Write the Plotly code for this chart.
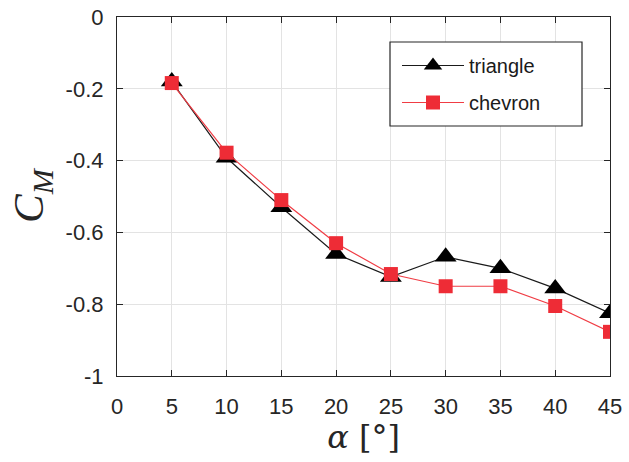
import plotly.graph_objects as go

alpha = [5, 10, 15, 20, 25, 30, 35, 40, 45]
triangle = [-0.18, -0.392, -0.53, -0.66, -0.724, -0.668, -0.70, -0.756, -0.825]
chevron = [-0.184, -0.378, -0.51, -0.63, -0.716, -0.75, -0.75, -0.805, -0.877]

x_ticks = [0, 5, 10, 15, 20, 25, 30, 35, 40, 45]
y_ticks = [0, -0.2, -0.4, -0.6, -0.8, -1]
y_tick_text = ["0", "-0.2", "-0.4", "-0.6", "-0.8", "-1"]

fig = go.Figure()
fig.add_trace(go.Scatter(
    x=alpha, y=triangle, name="triangle", mode="lines+markers",
    line=dict(color="#1a1a1a", width=1.2),
    marker=dict(symbol="triangle-up", size=19, color="#000000"),
    legendgroup="a",
))
fig.add_trace(go.Scatter(
    x=alpha, y=chevron, name="chevron", mode="lines+markers",
    line=dict(color="#f03c44", width=1.2),
    marker=dict(symbol="square", size=14, color="#ee2c36"),
    legendgroup="b",
))

axis_common = dict(
    showline=True, linecolor="#262626", linewidth=1.2, mirror="ticks",
    ticks="inside", ticklen=6, tickcolor="#262626",
    showgrid=True, gridcolor="#e3e3e3", gridwidth=1,
    zeroline=False, automargin=False,
    tickfont=dict(family="Liberation Sans, Arial", size=22, color="#262626"),
)

fig.update_xaxes(range=[0, 45], tickvals=x_ticks, ticklabelstandoff=10, **axis_common,
                 title=dict(text="<i>α</i> [°]", font=dict(family="DejaVu Serif, Liberation Serif, serif", size=32, color="#262626"), standoff=4))
fig.update_yaxes(range=[-1, 0], tickvals=y_ticks, ticktext=y_tick_text, ticklabelstandoff=8, **axis_common)

fig.add_annotation(
    text="<i>C<sub>M</sub></i>", xref="paper", yref="paper",
    x=-0.172, y=0.505, xanchor="center", yanchor="middle", textangle=-90,
    showarrow=False, font=dict(family="Liberation Serif, serif", size=43, color="#262626"),
)

# legend frame (white box with dark border)
fig.add_shape(
    type="rect", xref="paper", yref="paper",
    x0=(390 - 117) / 493, x1=(582 - 117) / 493,
    y0=(376 - 126) / 359, y1=(376 - 42) / 359,
    line=dict(color="#262626", width=1.2), fillcolor="white", layer="above",
)

fig.update_layout(
    width=629, height=462,
    margin=dict(l=117, r=19, t=17, b=86),
    plot_bgcolor="white", paper_bgcolor="white",
    showlegend=True,
    legend=dict(
        x=(397 - 117) / 493, y=(376 - 46) / 359, xanchor="left", yanchor="top",
        bgcolor="rgba(0,0,0,0)", borderwidth=0,
        font=dict(family="Liberation Sans, Arial", size=20, color="#1a1a1a"),
        itemwidth=62, tracegroupgap=8, traceorder="grouped",
    ),
)

fig.write_html("out.html", config={"displayModeBar": False},
               post_script="document.body.style.margin='0';")
